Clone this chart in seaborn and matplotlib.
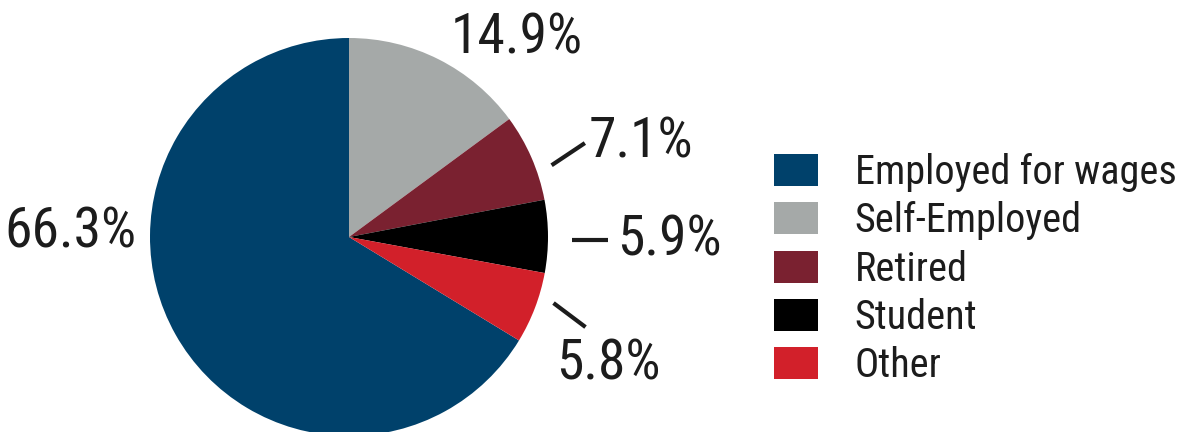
import matplotlib
matplotlib.use("Agg")
import matplotlib.pyplot as plt
from matplotlib import font_manager
from matplotlib.patches import Patch
import numpy as np
import seaborn as sns

# Employment status shares (percent)
categories = ["Employed for wages", "Self-Employed", "Retired", "Student", "Other"]
shares = [66.3, 14.9, 7.1, 5.9, 5.8]
colors = ["#00416b", "#a5a9a8", "#7a2130", "#000000", "#d2202a"]

sns.set_theme(style="white")


def pick_family(candidates):
    for fam in candidates:
        try:
            font_manager.findfont(font_manager.FontProperties(family=fam),
                                  fallback_to_default=False)
            return fam
        except Exception:
            continue
    return "DejaVu Sans"


FAMILY = pick_family(["Roboto Condensed", "Liberation Sans Narrow",
                      "Open Sans Condensed", "DejaVu Sans"])
plt.rcParams["font.family"] = [FAMILY, "DejaVu Sans"]

W, H = 1185, 432
fig = plt.figure(figsize=(W / 100, H / 100), dpi=100)
ax = fig.add_axes([0, 0, 1, 1])

cx, cy, R = 349, 432 - 237, 199
start = 90 + shares[0] * 3.6
wedges, _ = ax.pie(shares, colors=colors, startangle=start, counterclock=False,
                   center=(cx, cy), radius=R, frame=True,
                   wedgeprops=dict(linewidth=0))
ax.set_xlim(0, W)
ax.set_ylim(0, H)
ax.set_axis_off()
ax.set_aspect("equal")

ink = "#1c1c1c"
txt_kw = dict(fontsize=40, color=ink, fontstretch="condensed")

# label placement in pixel space, alignment, and optional leader line
# (anchor angle on the rim, anchor radius factor, direction in degrees, length px)
layout = {
    "Employed for wages": ((70, 432 - 232), "center", None),
    "Self-Employed": ((517, 432 - 38), "center", None),
    "Retired": ((589, 432 - 142), "left", (19.5, 1.08, 33.7, 40)),
    "Student": ((617, 432 - 240), "left", (-0.8, 1.12, 0.0, 36)),
    "Other": ((556, 432 - 364), "left", (-17.9, 1.08, -36.9, 40)),
}

for cat, val in zip(categories, shares):
    (tx, ty), ha, line = layout[cat]
    ax.text(tx, ty, f"{val}%", ha=ha, va="center", **txt_kw)
    if line is not None:
        ang, r0, direction, length = line
        a, d = np.deg2rad(ang), np.deg2rad(direction)
        x0, y0 = cx + R * r0 * np.cos(a), cy + R * r0 * np.sin(a)
        ax.plot([x0, x0 + length * np.cos(d)], [y0, y0 + length * np.sin(d)],
                color=ink, lw=3.0, solid_capstyle="butt")

handles = [Patch(facecolor=c, edgecolor="none") for c in colors]
leg = ax.legend(handles, categories, loc="upper left",
                bbox_to_anchor=(774 / W, 1 - 153 / H), bbox_transform=fig.transFigure,
                frameon=False, fontsize=29, handlelength=1.1, handleheight=0.85,
                handletextpad=0.9, labelspacing=0.23, borderpad=0, borderaxespad=0)
for t in leg.get_texts():
    t.set_color(ink)
    t.set_fontstretch("condensed")

fig.savefig("out.png", dpi=100, facecolor="white")
